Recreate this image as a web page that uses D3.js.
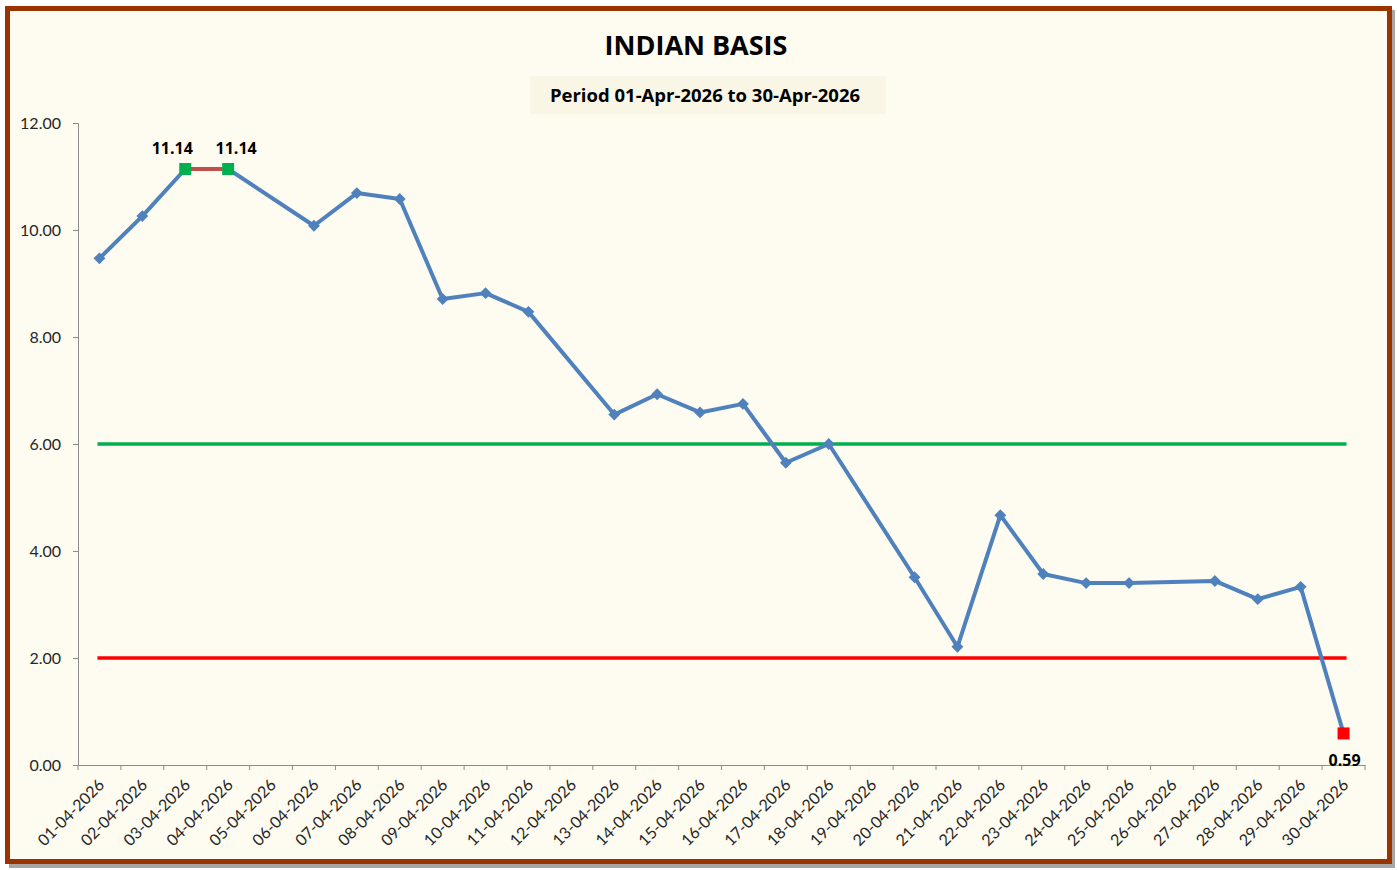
<!DOCTYPE html>
<html>
<head>
<meta charset="utf-8">
<script src="https://cdn.jsdelivr.net/npm/d3@7"></script>
<style>
    body { margin: 0; background: #ffffff; }
    svg { display: block; }
    .axis path, .axis line { stroke: #8c8c8c; }
</style>
</head>
<body>
<svg id="chart" width="1397" height="870"></svg>
<script>
// data; null = no value for that date
const dates = d3.range(1, 31).map(d => (d < 10 ? "0" + d : "" + d) + "-04-2026");
const basis = [9.47, 10.26, 11.14, 11.14, null, 10.08, 10.69, 10.58, 8.71, 8.82,
    8.47, null, 6.55, 6.93, 6.59, 6.75, 5.65, 6.00, null, 3.51,
    2.21, 4.67, 3.57, 3.40, 3.40, null, 3.44, 3.10, 3.33, 0.59];
const upperLevel = 6.00;
const lowerLevel = 2.00;
const yTicks = [0, 2, 4, 6, 8, 10, 12];

const svg = d3.select("#chart");
const W = 1397, H = 870;
const m = {left: 78, right: 32, top: 123, bottom: 105};
const w = W - m.left - m.right, h = H - m.top - m.bottom;
const labelFont = "Lato, 'Open Sans', sans-serif";
const boldFont = "'Open Sans', sans-serif";

// frame
svg.append("rect").attr("x", 9).attr("y", 10).attr("width", 1386).attr("height", 858)
    .attr("fill", "#6b6b6b").attr("opacity", 0.6);
svg.append("rect").attr("x", 7.5).attr("y", 8.5).attr("width", 1382).attr("height", 853)
    .attr("fill", "#fefbf0").attr("stroke", "#993300").attr("stroke-width", 5);

svg.append("text").attr("x", 696).attr("y", 55).attr("text-anchor", "middle")
    .style("font-family", boldFont).style("font-size", "27px").style("font-weight", 700)
    .text("INDIAN BASIS");
svg.append("rect").attr("x", 530).attr("y", 76).attr("width", 356).attr("height", 38).attr("fill", "#faf6e6");
svg.append("text").attr("x", 705).attr("y", 102).attr("text-anchor", "middle")
    .style("font-family", boldFont).style("font-size", "18.5px").style("font-weight", 700)
    .text("Period 01-Apr-2026 to 30-Apr-2026");

const g = svg.append("g").attr("transform", `translate(${m.left},${m.top})`);

const x = d3.scaleBand().domain(dates).range([0, w]);
const y = d3.scaleLinear().domain([0, 12]).range([h, 0]);
const cx = d => x(d) + x.bandwidth() / 2;

const yAxis = g.append("g").attr("class", "axis")
    .call(d3.axisLeft(y).tickValues(yTicks).tickFormat(d3.format(".2f")).tickSizeOuter(0).tickSize(5).tickPadding(12));
yAxis.selectAll(".tick text")
    .style("font-family", labelFont).style("font-size", "16px").attr("fill", "#262626");

const xAxis = g.append("g").attr("class", "axis").attr("transform", `translate(0,${h})`)
    .call(d3.axisBottom(x).tickSize(5).tickSizeOuter(0));
// ticks at band edges like Excel
xAxis.selectAll(".tick line").attr("x1", -x.bandwidth() / 2).attr("x2", -x.bandwidth() / 2);
xAxis.append("line").attr("x1", w).attr("x2", w).attr("y1", 0).attr("y2", 5).attr("stroke", "#8c8c8c");
xAxis.selectAll(".tick text")
    .style("font-family", labelFont).style("font-size", "16px").attr("fill", "#262626")
    .attr("text-anchor", "end")
    .attr("x", 0).attr("y", 0).attr("dy", "0.35em")
    .attr("transform", "translate(2,17) rotate(-45)");

// reference levels
const x0 = cx(dates[0]) - 2, x1 = cx(dates[dates.length - 1]) + 3;
g.append("line").attr("x1", x0).attr("x2", x1).attr("y1", y(upperLevel)).attr("y2", y(upperLevel))
    .attr("stroke", "#00b050").attr("stroke-width", 3.5);
g.append("line").attr("x1", x0).attr("x2", x1).attr("y1", y(lowerLevel)).attr("y2", y(lowerLevel))
    .attr("stroke", "#ff0000").attr("stroke-width", 3.5);

// series
const pts = dates.map((d, i) => ({d, v: basis[i]})).filter(p => p.v !== null);
const line = d3.line().x(p => cx(p.d)).y(p => y(p.v));
g.append("path").datum(pts).attr("d", line)
    .attr("fill", "none").attr("stroke", "#4f81bd").attr("stroke-width", 4).attr("stroke-linejoin", "round");

const maxV = d3.max(pts, p => p.v), minV = d3.min(pts, p => p.v);
const maxPts = pts.filter(p => p.v === maxV);
const minPts = pts.filter(p => p.v === minV);

// segment between the two max points
if (maxPts.length > 1) {
    g.append("path").datum(maxPts).attr("d", line)
        .attr("fill", "none").attr("stroke", "#c0504d").attr("stroke-width", 4);
}

g.selectAll(".dot").data(pts.filter(p => p.v !== maxV && p.v !== minV)).enter()
    .append("path").attr("class", "dot")
    .attr("d", d3.symbol(d3.symbolSquare, 70))
    .attr("transform", p => `translate(${cx(p.d)},${y(p.v)}) rotate(45)`)
    .attr("fill", "#4f81bd");

g.selectAll(".maxdot").data(maxPts).enter().append("rect")
    .attr("x", p => cx(p.d) - 6).attr("y", p => y(p.v) - 6)
    .attr("width", 12).attr("height", 12).attr("fill", "#00b050");
g.selectAll(".maxlbl").data(maxPts).enter().append("text")
    .attr("x", (p, i) => cx(p.d) + (maxPts.length > 1 ? (i === 0 ? -13 : 8) : 0))
    .attr("y", p => y(p.v) - 15).attr("text-anchor", "middle")
    .style("font-family", boldFont).style("font-size", "16px").style("font-weight", 700)
    .text(p => p.v.toFixed(2));

g.selectAll(".mindot").data(minPts).enter().append("rect")
    .attr("x", p => cx(p.d) - 6).attr("y", p => y(p.v) - 6)
    .attr("width", 12).attr("height", 12).attr("fill", "#ff0000");
g.selectAll(".minlbl").data(minPts).enter().append("text")
    .attr("x", p => cx(p.d) + 1).attr("y", p => y(p.v) + 33).attr("text-anchor", "middle")
    .style("font-family", boldFont).style("font-size", "16px").style("font-weight", 700)
    .text(p => p.v.toFixed(2));
</script>
</body>
</html>
